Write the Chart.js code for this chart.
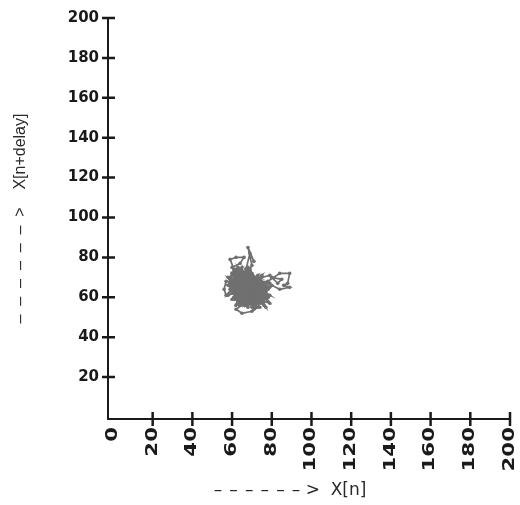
<!DOCTYPE html>
<html><head><meta charset="utf-8">
<script src="https://cdn.jsdelivr.net/npm/chart.js@4/dist/chart.umd.min.js"></script>
<style>html,body{margin:0;padding:0;background:#fff;}canvas{display:block;}</style>
</head><body>
<canvas id="c" width="520" height="505"></canvas>
<script>
const X_TICKS = [0,20,40,60,80,100,120,140,160,180,200];
const Y_TICKS = [20,40,60,80,100,120,140,160,180,200];
const X_TITLE = '\u2013 \u200a\u2013 \u200a\u2013 \u200a\u2013 \u200a\u2013 \u200a\u2013 >  X[n]       ';
const Y_TITLE = '\u2013  \u2013  \u2013  \u2013  \u2013  \u2013  >    X[n+delay]';

// X[n]
const X_N = [
66,72,61,75,68,63,78,70,64,59,
73,67,62,77,69,60,74,65,71,79,
63,70,76,61,68,73,58,66,75,64,
71,62,69,77,65,60,72,67,74,63,
68,78,61,70,64,75,66,59,73,69,
70,68,71,69,67,
62,71,76,65,68,60,74,63,70,78,
67,64,72,58,69,75,62,66,77,71,
60,73,65,70,63,79,68,61,74,67,
72,66,59,76,64,70,62,73,68,75,
65,61,71,78,67,63,69,74,60,72,
61,59,62,66,64,60,
70,76,64,68,62,73,66,79,61,69,
74,63,67,60,71,65,77,68,72,64,
59,69,75,66,62,70,64,73,67,78,
71,65,61,68,74,63,76,69,60,66,
73,67,62,70,64,77,68,65,71,59,
78,84,89,88,86,89,84,80,76,
64,72,66,74,61,69,63,75,67,70,
68,60,73,65,78,62,71,66,72,63,
75,69,64,61,70,67,74,58,68,65,
62,71,76,66,63,73,60,69,77,64,
70,65,68,72,59,66,75,62,71,67,
57,56,57,
73,61,69,64,76,68,63,70,65,74,
66,72,60,67,79,64,71,62,68,75,
62,65,70,73,
69,63,74,65,70,61,73,67,64,72,
62,68,76,60,71,66,69,74,63,70,
80,85,83,79,
67,73,65,72,62,69,64,77,66,71];

// X[n+delay]
const X_N_DELAY = [
62,58,67,70,55,64,60,72,57,66,
61,69,56,65,73,59,63,68,54,67,
70,57,64,62,75,60,66,58,71,63,
56,68,61,65,59,72,64,70,57,62,
66,60,73,55,67,63,58,69,61,74,
76,85,78,82,74,
59,65,62,71,57,68,63,75,60,64,
72,56,66,61,70,58,64,67,55,69,
63,71,59,65,62,57,73,60,68,66,
58,64,70,56,67,61,74,62,65,59,
68,62,57,64,71,60,66,58,72,63,
74,79,80,80,77,75,
61,67,74,59,64,69,56,65,62,70,
65,58,63,71,60,67,62,73,57,64,
69,61,66,57,72,64,59,68,63,60,
56,70,63,67,61,74,58,65,69,62,
64,59,68,62,73,60,66,71,56,67,
68,72,72,67,66,65,64,66,62,
71,63,57,66,60,69,65,62,74,58,
60,67,64,70,58,73,61,66,63,68,
62,72,59,65,68,56,64,70,61,75,
67,60,65,58,71,63,69,57,66,62,
59,66,73,61,64,70,58,67,63,72,
61,64,68,
65,62,57,69,63,60,71,64,68,55,
70,58,64,66,61,72,60,67,59,63,
54,52,53,55,
57,68,62,73,65,59,66,61,70,64,
63,71,60,67,58,65,73,62,69,57,
70,69,67,71,
68,61,66,59,72,64,56,63,67,60];

const points = X_N.map((x, i) => ({x: x, y: X_N_DELAY[i]}));
const AXIS = '#1a1a1a';
const MARK = '#707070';
const LABEL_PAD = 8;

const crossTicks = {
  id: 'crossTicks',
  afterDatasetsDraw(chart) {
    // stretch the rotated x tick labels along their reading direction
    const ctx = chart.ctx, xs = chart.scales.x;
    const y0 = xs.top + LABEL_PAD;
    ctx.save();
    ctx.translate(0, y0); ctx.scale(1, 1.42); ctx.translate(0, -y0);
  },
  afterDraw(chart) {
    const ctx = chart.ctx;
    ctx.restore();
    const xs = chart.scales.x, ys = chart.scales.y;
    ctx.save();
    ctx.strokeStyle = AXIS;
    ctx.lineWidth = 2.5;
    ctx.beginPath();
    xs.ticks.forEach(t => {
      if (t.value === 0) return;
      const px = xs.getPixelForValue(t.value);
      ctx.moveTo(px, xs.top - 7); ctx.lineTo(px, xs.top + 7);
    });
    ys.ticks.forEach(t => {
      const py = ys.getPixelForValue(t.value);
      ctx.moveTo(ys.right - 6, py); ctx.lineTo(ys.right + 7, py);
    });
    ctx.stroke();
    ctx.restore();
  }
};

new Chart(document.getElementById('c'), {
  type: 'scatter',
  data: { datasets: [{
    data: points, showLine: true,
    pointRadius: 1.8, pointBorderWidth: 0, pointBackgroundColor: MARK,
    borderColor: MARK, borderWidth: 1.7, tension: 0
  }]},
  options: {
    responsive: false, animation: false,
    layout: { padding: { top: 16, right: 10, left: 0, bottom: 0 } },
    plugins: { legend: { display: false }, tooltip: { enabled: false } },
    scales: {
      x: {
        type: 'linear', min: -2.5, max: 200,
        afterBuildTicks(s) { s.ticks = X_TICKS.map(v => ({value: v})); },
        afterFit(s) { s.height = 86; s.paddingLeft = 0; s.paddingRight = 0; },
        grid: { display: false, drawTicks: false },
        border: { display: true, color: AXIS, width: 2 },
        ticks: { autoSkip: false, minRotation: 90, maxRotation: 90, padding: LABEL_PAD, z: 1,
          color: AXIS, font: { family: 'DejaVu Sans', size: 15, weight: 'bold' } },
        title: { display: true, text: X_TITLE, color: '#2a2a2a',
          font: { family: 'DejaVu Sans', size: 17 }, padding: { top: 0, bottom: 4 } }
      },
      y: {
        type: 'linear', min: -1, max: 200,
        afterBuildTicks(s) { s.ticks = Y_TICKS.map(v => ({value: v})); },
        afterFit(s) { s.width = 108; },
        grid: { display: false, drawTicks: false },
        border: { display: true, color: AXIS, width: 2 },
        ticks: { autoSkip: false, padding: 9,
          color: AXIS, font: { family: 'DejaVu Sans', size: 15, weight: 'bold' } },
        title: { display: true, text: Y_TITLE, color: '#2a2a2a',
          font: { family: 'Liberation Sans', size: 16 }, padding: { top: 11, bottom: 0 } }
      }
    }
  },
  plugins: [crossTicks]
});
</script>
</body></html>
